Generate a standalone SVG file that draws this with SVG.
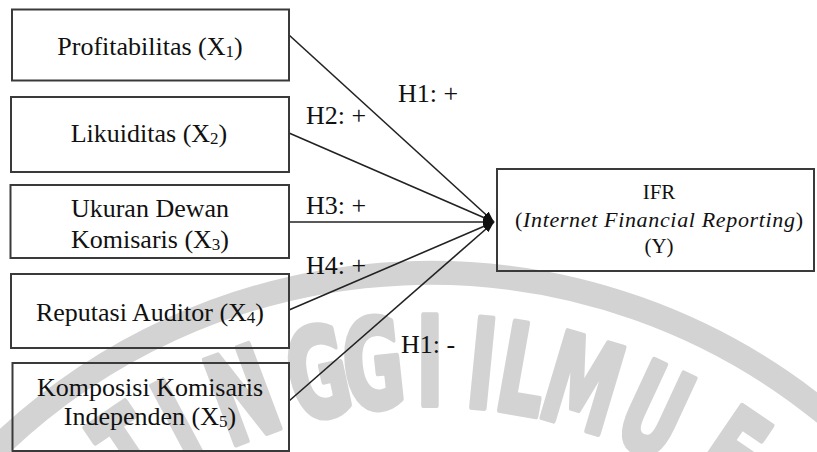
<svg xmlns="http://www.w3.org/2000/svg" width="817" height="452" viewBox="0 0 817 452">
  <style>
    .box{fill:none;stroke:#3a3a3a;stroke-width:2}
    .t{font-family:"Liberation Serif","Times New Roman",serif;font-size:26px;fill:#111;text-anchor:middle}
    .h{font-family:"Liberation Serif","Times New Roman",serif;font-size:26px;fill:#111}
    .sub{font-size:17px}
    .i{font-style:italic}
    .s{font-size:21px}
    .m{font-size:22px}
    .conn{stroke:#222;stroke-width:1.6;fill:none;marker-end:url(#arr)}
    .wm{font-family:"DejaVu Sans",sans-serif;font-weight:bold;font-size:123px;fill:#d3d3d3;stroke:#d3d3d3;stroke-width:6;stroke-linejoin:round;text-anchor:middle}
  </style>
  <defs>
    <marker id="arr" markerUnits="userSpaceOnUse" viewBox="0 0 11 8" markerWidth="11" markerHeight="8" refX="11" refY="4" orient="auto">
      <path d="M0,0 L11,4 L0,8 Z" fill="#111"/>
    </marker>
  </defs>
  <rect width="817" height="452" fill="#fff"/>
  <g id="watermark">
    <path d="M -10,455 A 623,623 0 0 1 830,418" fill="none" stroke="#d3d3d3" stroke-width="24"/>
    <text class="wm" transform="translate(155.4,489) rotate(-34) scale(0.6,1)">T</text>
    <text class="wm" transform="translate(199.5,462.5) rotate(-28) scale(0.6,1)">I</text>
    <text class="wm" transform="translate(258,436.1) rotate(-20.5) scale(0.6,1)">N</text>
    <text class="wm" transform="translate(327.1,415.9) rotate(-12.1) scale(0.6,1)">G</text>
    <text class="wm" transform="translate(377.8,407.8) rotate(-6.1) scale(0.6,1)">G</text>
    <text class="wm" transform="translate(430,405) scale(0.6,1)">I</text>
    <text class="wm" transform="translate(477.9,407.4) rotate(5.6) scale(0.6,1)">I</text>
    <text class="wm" transform="translate(515.3,412.5) rotate(10) scale(0.6,1)">L</text>
    <text class="wm" transform="translate(570.3,425.5) rotate(16.6) scale(0.6,1)">M</text>
    <text class="wm" transform="translate(636.7,450.7) rotate(24.9) scale(0.6,1)">U</text>
    <text class="wm" transform="translate(706,489.9) rotate(34.2) scale(0.6,1)">E</text>
  </g>
  <g id="connectors">
    <line class="conn" x1="289" y1="35" x2="494" y2="222"/>
    <line class="conn" x1="289" y1="133" x2="494" y2="222"/>
    <line class="conn" x1="289" y1="222" x2="494" y2="222"/>
    <line class="conn" x1="289" y1="310" x2="494" y2="222"/>
    <line class="conn" x1="289" y1="401" x2="494" y2="222"/>
    <text class="h" x="398" y="102">H1: +</text>
    <text class="h" x="306" y="124">H2: +</text>
    <text class="h" x="306" y="214">H3: +</text>
    <text class="h" x="306" y="274">H4: +</text>
    <text class="h" x="401" y="353">H1: -</text>
  </g>
  <g id="x1">
    <rect class="box" x="12" y="9.5" width="277" height="71"/>
    <text class="t" x="150" y="55">Profitabilitas (X<tspan class="sub" dy="2">1</tspan><tspan dy="-2">)</tspan></text>
  </g>
  <g id="x2">
    <rect class="box" x="11" y="97" width="278" height="75"/>
    <text class="t" x="149" y="142">Likuiditas (X<tspan class="sub" dy="2">2</tspan><tspan dy="-2">)</tspan></text>
  </g>
  <g id="x3">
    <rect class="box" x="10.5" y="185" width="278.5" height="73"/>
    <text class="t" x="150" y="217">Ukuran Dewan</text>
    <text class="t" x="150" y="248">Komisaris (X<tspan class="sub" dy="2">3</tspan><tspan dy="-2">)</tspan></text>
  </g>
  <g id="x4">
    <rect class="box" x="11" y="274" width="278" height="74"/>
    <text class="t" x="150" y="321">Reputasi Auditor (X<tspan class="sub" dy="2">4</tspan><tspan dy="-2">)</tspan></text>
  </g>
  <g id="x5">
    <rect class="box" x="12.5" y="363" width="276.5" height="88"/>
    <text class="t" x="150" y="396">Komposisi Komisaris</text>
    <text class="t" x="150" y="425">Independen (X<tspan class="sub" dy="2">5</tspan><tspan dy="-2">)</tspan></text>
  </g>
  <g id="y">
    <rect class="box" x="497" y="169" width="317" height="102"/>
    <text class="t s" x="659" y="199">IFR</text>
    <text class="t m" x="659" y="227" textLength="288" lengthAdjust="spacing">(<tspan class="i">Internet Financial Reporting</tspan>)</text>
    <text class="t s" x="659" y="253">(Y)</text>
  </g>
</svg>
